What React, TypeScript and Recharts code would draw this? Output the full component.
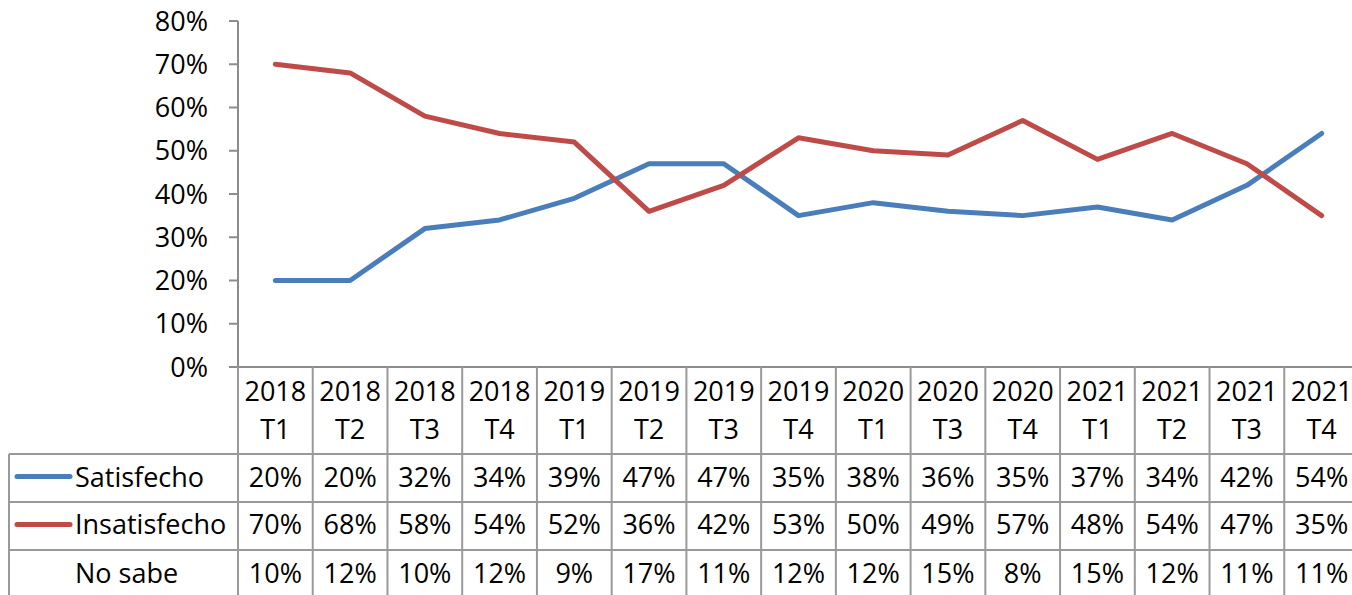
import React from 'react';
import { LineChart, Line, XAxis, YAxis } from 'recharts';

const years = ['2018', '2018', '2018', '2018', '2019', '2019', '2019', '2019', '2020', '2020', '2020', '2021', '2021', '2021', '2021'];
const quarters = ['T1', 'T2', 'T3', 'T4', 'T1', 'T2', 'T3', 'T4', 'T1', 'T3', 'T4', 'T1', 'T2', 'T3', 'T4'];
const satisfecho = [20, 20, 32, 34, 39, 47, 47, 35, 38, 36, 35, 37, 34, 42, 54];
const insatisfecho = [70, 68, 58, 54, 52, 36, 42, 53, 50, 49, 57, 48, 54, 47, 35];
const noSabe = [10, 12, 10, 12, 9, 17, 11, 12, 12, 15, 8, 15, 12, 11, 11];
const seriesNames = ['Satisfecho', 'Insatisfecho', 'No sabe'];
const yTicks = [0, 10, 20, 30, 40, 50, 60, 70, 80];

const BLUE = '#4A7EBB';
const RED = '#BE4B48';
const GRID = '#999999';
const AXIS = '#8C8C8C';
const FONT = "'Open Sans', sans-serif";
const FS = 27;

const data = years.map((y, i) => ({
  cat: `${y} ${quarters[i]}`,
  idx: i,
  satisfecho: satisfecho[i],
  insatisfecho: insatisfecho[i],
  noSabe: noSabe[i],
}));

const CHART_W = 1359;
const CHART_H = 595;
const Y_W = 238;
const COL_W = (CHART_W - Y_W) / years.length;
const LEFT_X = 9;

const rowSeps = [87, 135, 183];
const rowBase = [120, 167, 216];
const rowValues = [satisfecho, insatisfecho, noSabe];
const rowColors = [BLUE, RED, null];

const TableTick = (props: any) => {
  const { x, y, payload } = props;
  const i = payload.index;
  const left = x - COL_W / 2;
  const right = x + COL_W / 2;
  const bottom = y + 240;
  const txt = { fontFamily: FONT, fontSize: FS, fill: '#000' };
  return (
    <g>
      <line x1={left} y1={y} x2={left} y2={bottom} stroke={GRID} strokeWidth={2} />
      {i === years.length - 1 && (
        <line x1={right} y1={y} x2={right} y2={bottom} stroke={GRID} strokeWidth={2} />
      )}
      {rowSeps.map((d, k) => (
        <line key={k} x1={left} y1={y + d} x2={right} y2={y + d} stroke={GRID} strokeWidth={2} />
      ))}
      <text x={x} y={y + 34} textAnchor="middle" {...txt}>{years[i]}</text>
      <text x={x} y={y + 72} textAnchor="middle" {...txt}>{quarters[i]}</text>
      {rowValues.map((arr, k) => (
        <text key={k} x={x} y={y + rowBase[k]} textAnchor="middle" {...txt}>{arr[i]}%</text>
      ))}
      {i === 0 && (
        <g>
          {rowSeps.map((d, k) => (
            <line key={k} x1={LEFT_X} y1={y + d} x2={left} y2={y + d} stroke={GRID} strokeWidth={2} />
          ))}
          <line x1={LEFT_X} y1={y + rowSeps[0]} x2={LEFT_X} y2={bottom} stroke={GRID} strokeWidth={2} />
          {seriesNames.map((n, k) => (
            <g key={k}>
              {rowColors[k] && (
                <line x1={17} y1={y + (rowSeps[k] + (rowSeps[k + 1] ?? 231)) / 2 - 1.5} x2={70} y2={y + (rowSeps[k] + (rowSeps[k + 1] ?? 231)) / 2 - 1.5} stroke={rowColors[k] as string} strokeWidth={5} strokeLinecap="round" />
              )}
              <text x={75} y={y + rowBase[k]} textAnchor="start" {...txt}>{n}</text>
            </g>
          ))}
        </g>
      )}
    </g>
  );
};

export default function App() {
  return (
    <div style={{ position: 'absolute', left: 0, top: 0, width: 1352, height: 595, overflow: 'hidden', background: '#fff' }}>
      <LineChart width={CHART_W} height={CHART_H} data={data} margin={{ top: 21, right: 0, bottom: 0, left: 0 }}>
        <XAxis
          dataKey="cat"
          height={228}
          interval={0}
          padding={{ left: COL_W / 2, right: COL_W / 2 }}
          tickLine={false}
          tickSize={0}
          tickMargin={0}
          axisLine={{ stroke: AXIS, strokeWidth: 2 }}
          tick={<TableTick />}
        />
        <YAxis
          width={Y_W}
          domain={[0, 80]}
          ticks={yTicks}
          interval={0}
          tickFormatter={(v: number) => `${v}%`}
          tickSize={9}
          tickMargin={21}
          axisLine={{ stroke: AXIS, strokeWidth: 2 }}
          tickLine={{ stroke: AXIS, strokeWidth: 2 }}
          tick={{ fontFamily: FONT, fontSize: FS, fill: '#000' }}
        />
        <Line dataKey="satisfecho" stroke={BLUE} strokeWidth={5} dot={false} isAnimationActive={false} strokeLinejoin="round" strokeLinecap="round" />
        <Line dataKey="insatisfecho" stroke={RED} strokeWidth={5} dot={false} isAnimationActive={false} strokeLinejoin="round" strokeLinecap="round" />
      </LineChart>
    </div>
  );
}
